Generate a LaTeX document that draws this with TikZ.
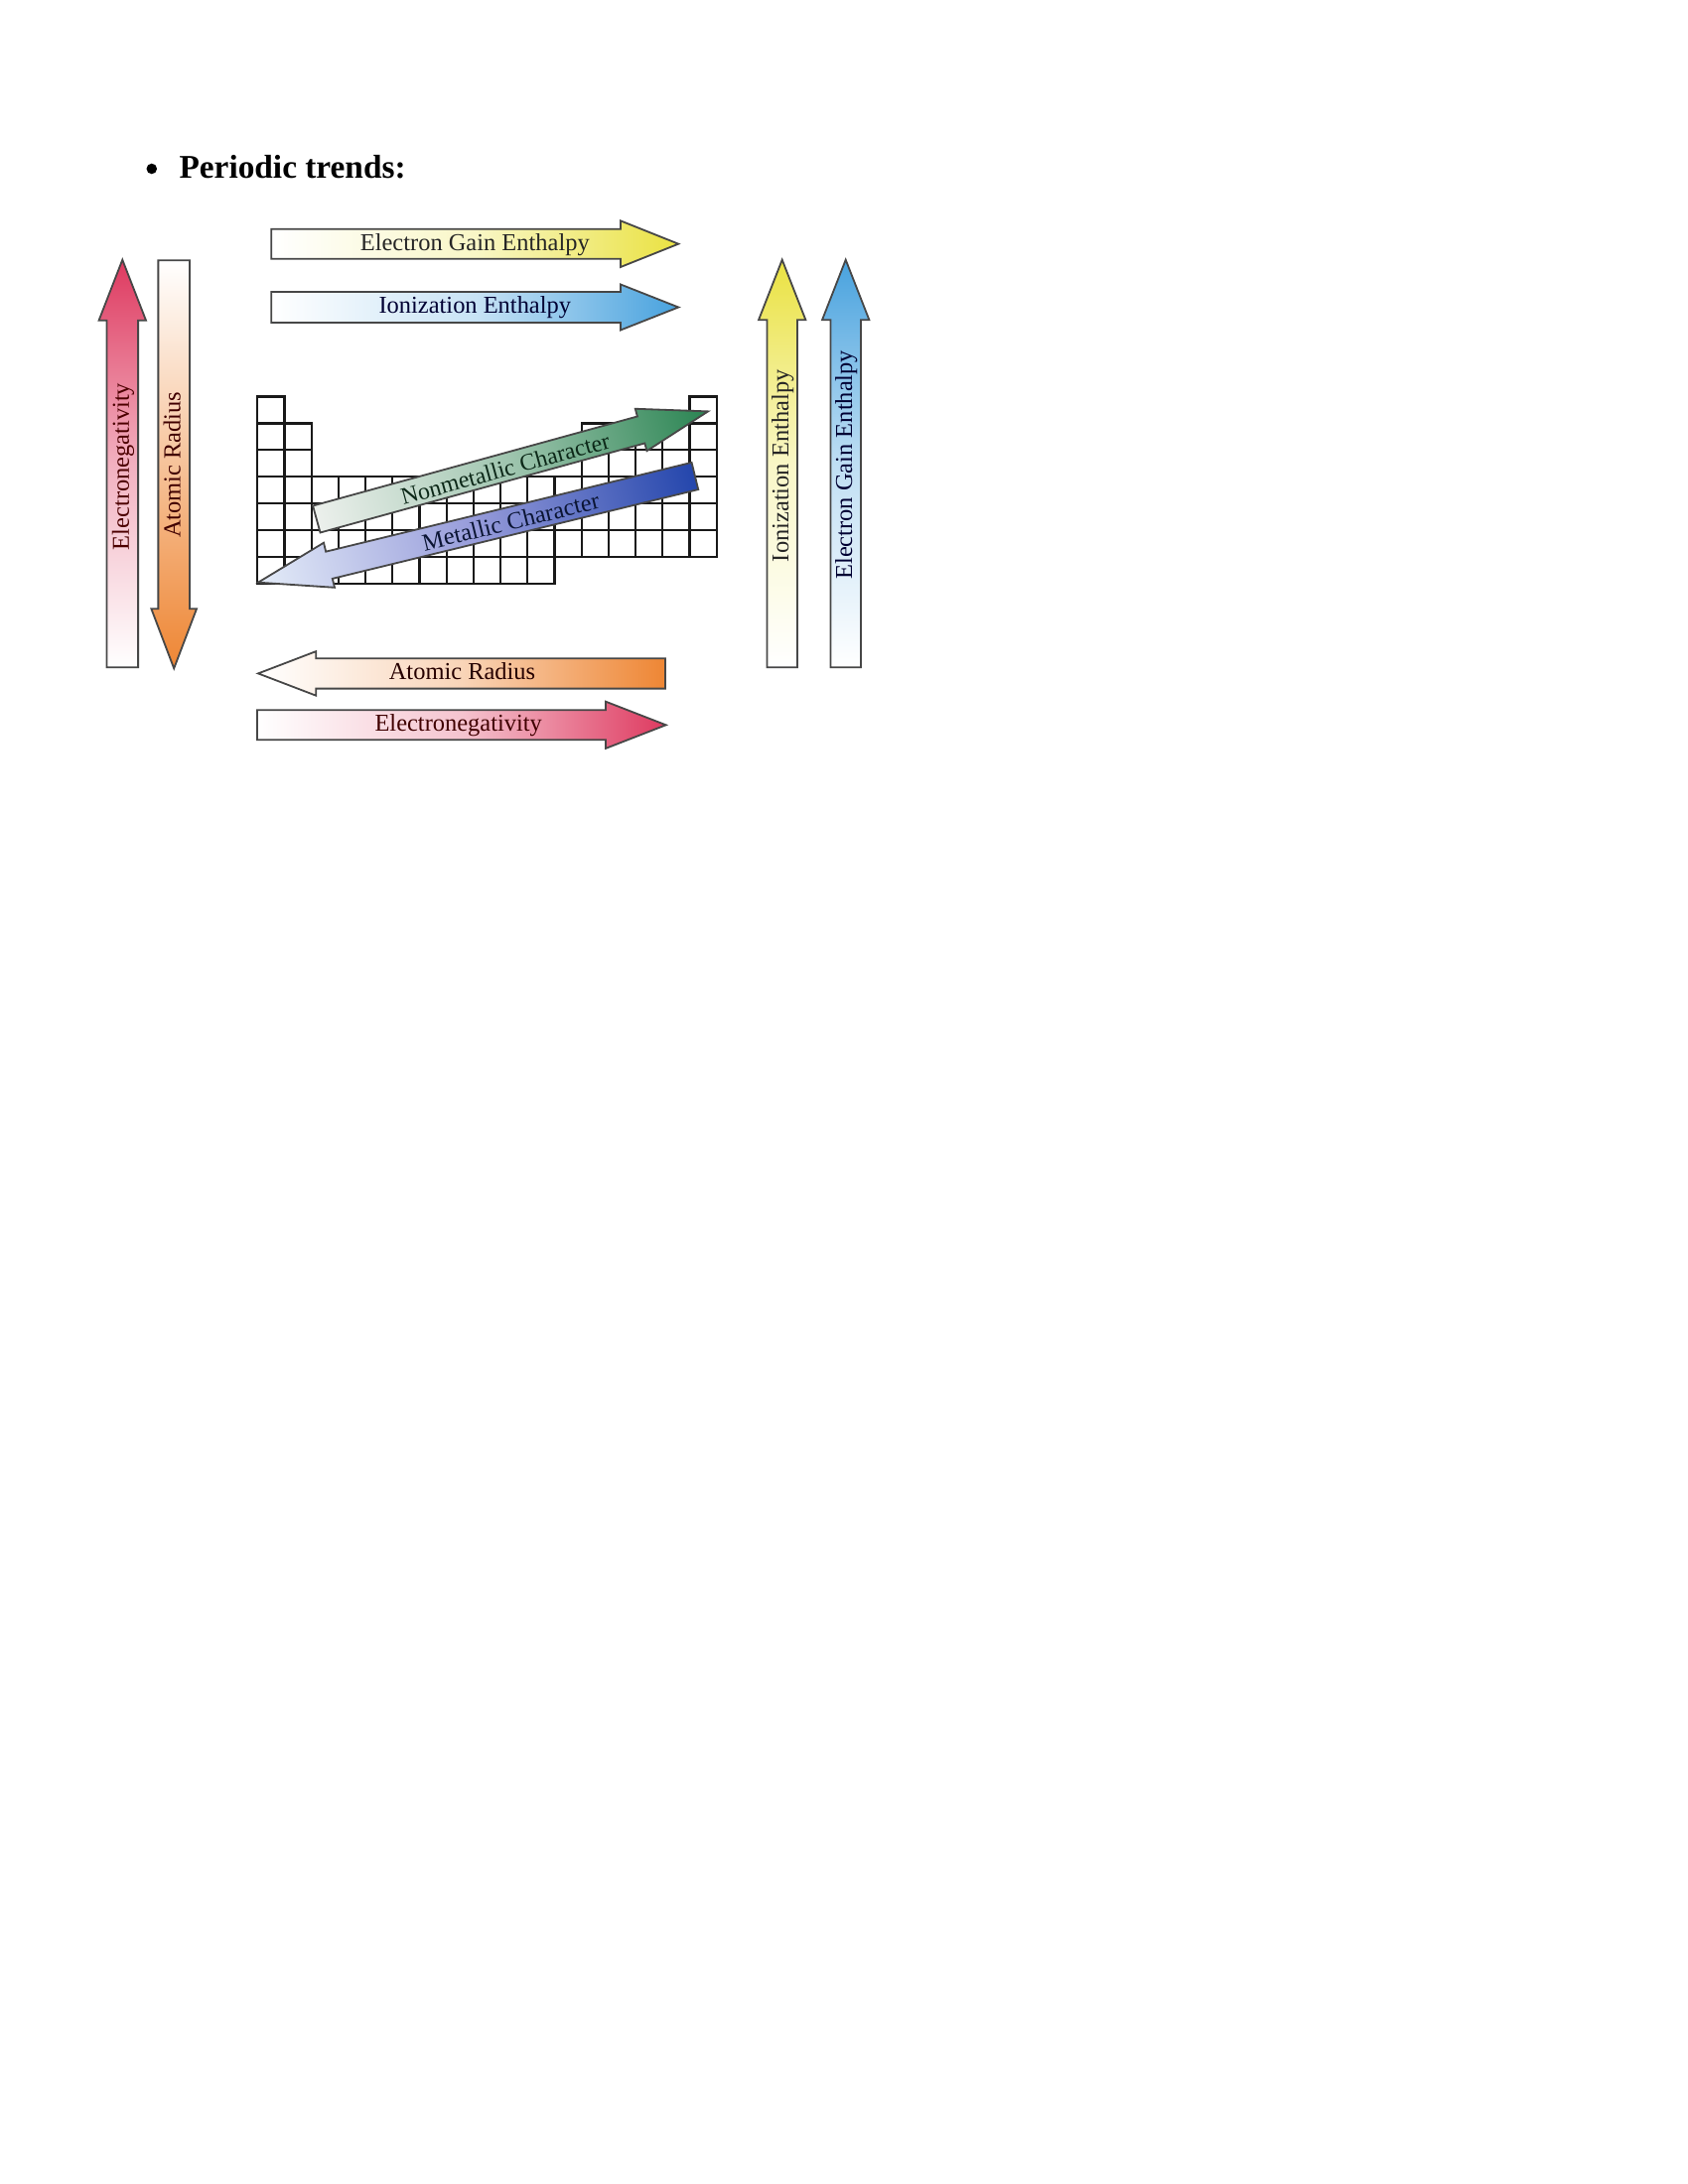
\documentclass[tikz,border=0pt]{standalone}
\usepackage{fontspec}
\setmainfont{Liberation Serif}
\definecolor{tyellow}{RGB}{234,226,66}
\definecolor{tblue}{RGB}{72,162,222}
\definecolor{tred}{RGB}{222,58,96}
\definecolor{torange}{RGB}{238,134,52}
\definecolor{tgreen}{RGB}{42,132,82}
\definecolor{tpaleg}{RGB}{236,240,236}
\definecolor{tdblue}{RGB}{36,70,172}
\definecolor{tpaleb}{RGB}{228,236,248}
\definecolor{tlav}{RGB}{150,155,218}
% arrow pointing right, origin at tail centre: #2 length, #3 head length, #4 body half width, #5 head half width
\newcommand{\trendR}[5]{\draw[#1] (0,-#4) -- ({#2-#3},-#4) -- ({#2-#3},-#5) -- (#2,0) -- ({#2-#3},#5) -- ({#2-#3},#4) -- (0,#4) -- cycle;}
% arrow pointing left, origin at tip
\newcommand{\trendL}[5]{\draw[#1] (0,0) -- (#3,-#5) -- (#3,-#4) -- (#2,-#4) -- (#2,#4) -- (#3,#4) -- (#3,#5) -- cycle;}
\begin{document}
\begin{tikzpicture}[x=0.36pt,y=-0.36pt,
  arr/.style={draw=black!72, line width=0.65pt},
  lab/.style={font=\fontsize{8.8}{10}\selectfont, anchor=base, inner sep=0pt},
  cell/.style={draw=black!90, line width=0.85pt}]
\useasboundingbox[fill=white] (0,0) rectangle (1700,2200);

% title
\node[circle, fill=black, inner sep=0pt, minimum size=3.8pt] (bullet) at (152.8,170) {};
\node[anchor=base west, inner sep=0pt, font=\fontsize{12}{14}\selectfont\bfseries] (title) at (180,179.3) {Periodic trends:};

% periodic table grid
\foreach \c in {0,16} \draw[cell] ({259.3+27.2*\c},399.4) rectangle ++(27.2,26.93);
\foreach \r in {1,2} \foreach \c in {0,1,12,13,14,15,16} \draw[cell] ({259.3+27.2*\c},{399.4+26.93*\r}) rectangle ++(27.2,26.93);
\foreach \r in {3,4,5} \foreach \c in {0,...,16} \draw[cell] ({259.3+27.2*\c},{399.4+26.93*\r}) rectangle ++(27.2,26.93);
\foreach \c in {0,...,10} \draw[cell] ({259.3+27.2*\c},{399.4+26.93*6}) rectangle ++(27.2,26.93);

% top horizontal arrows
\begin{scope}[transform canvas={shift={(273.3,245.7)}}]
  \trendR{arr, left color=white, right color=tyellow, middle color=tyellow!30!white}{410}{58.3}{15}{23.3}
  \node[lab, text=black!85] (egeTop) at (205,6.5) {Electron Gain Enthalpy};
\end{scope}
\begin{scope}[transform canvas={shift={(273.3,309.5)}}]
  \trendR{arr, left color=white, right color=tblue, middle color=tblue!30!white}{410}{58.3}{15.5}{23}
  \node[lab, text=black!80!blue] (ieTop) at (205,6.5) {Ionization Enthalpy};
\end{scope}

% bottom horizontal arrows
\begin{scope}[transform canvas={shift={(260,678.4)}}]
  \trendL{arr, left color=white, right color=torange, middle color=torange!35!white}{410}{58.3}{15.2}{22.3}
  \node[lab, text=black!85!red] (arBot) at (205.5,6.5) {Atomic Radius};
\end{scope}
\begin{scope}[transform canvas={shift={(259,730.3)}}]
  \trendR{arr, left color=white, right color=tred, middle color=tred!30!white}{411.7}{60.7}{15}{23.6}
  \node[lab, text=black!75!red] (enBot) at (202.7,6.5) {Electronegativity};
\end{scope}

% left vertical arrows
\begin{scope}[transform canvas={shift={(123.3,672.3)}, rotate=90}]
  \trendR{arr, left color=white, right color=tred, middle color=tred!40!white}{410.6}{61}{15.8}{23.7}
  \node[lab, text=black!70!red] (enLeft) at (202.3,6.5) {Electronegativity};
\end{scope}
\begin{scope}[transform canvas={shift={(175.2,673.3)}, rotate=90}]
  \trendL{arr, left color=torange, right color=white, middle color=torange!50!white}{411}{60}{15.8}{22.8}
  \node[lab, text=black!75!red] (arLeft) at (205,6.5) {Atomic Radius};
\end{scope}

% right vertical arrows
\begin{scope}[transform canvas={shift={(787.7,672.3)}, rotate=90}]
  \trendR{arr, left color=white, right color=tyellow, middle color=tyellow!30!white}{410.6}{60.6}{15.2}{23.7}
  \node[lab, text=black!85] (ieRight) at (203,6.5) {Ionization Enthalpy};
\end{scope}
\begin{scope}[transform canvas={shift={(851.7,672.3)}, rotate=90}]
  \trendR{arr, left color=white, right color=tblue, middle color=tblue!35!white}{410.6}{60.6}{15.2}{23.7}
  \node[lab, text=black!80!blue] (egeRight) at (204,6.5) {Electron Gain Enthalpy};
\end{scope}

% diagonal arrows
\begin{scope}[transform canvas={shift={(318.8,523)}, rotate=15.4}]
  \trendR{arr, left color=tpaleg, right color=tgreen, middle color=tgreen!40!tpaleg}{409}{70}{14}{22}
  \node[lab, font=\fontsize{8.6}{10}\selectfont, text=black!70!tgreen] (nonmetal) at (196.6,9.5) {Nonmetallic Character};
\end{scope}
\begin{scope}[transform canvas={shift={(260,586.7)}, rotate=13.7}]
  \trendL{arr, left color=tpaleb, right color=tdblue, middle color=tlav}{452.8}{73.6}{14}{23.2}
  \node[lab, text=black!70!tdblue] (metal) at (261.6,9) {Metallic Character};
\end{scope}
\end{tikzpicture}
\end{document}
